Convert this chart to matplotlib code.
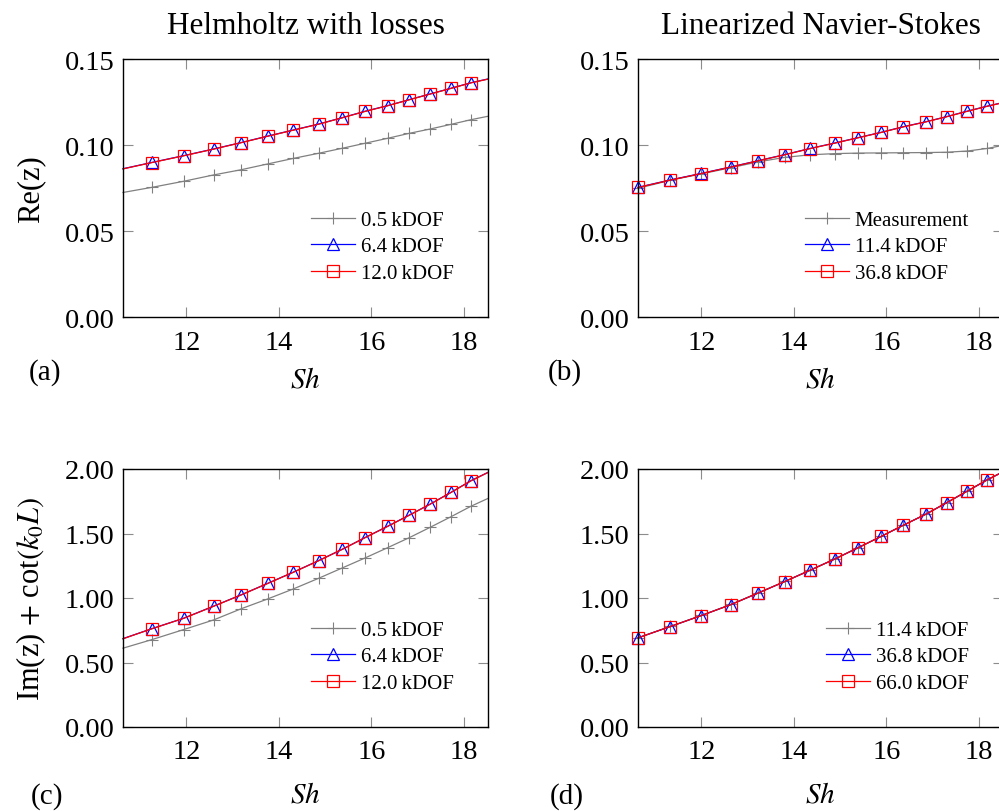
import matplotlib
matplotlib.use('Agg')
import matplotlib.pyplot as plt

plt.rcParams['font.family'] = ['Liberation Serif', 'DejaVu Serif']
plt.rcParams['mathtext.fontset'] = 'stix'

# Sh values (first/last entries sit on the axis edges, no marker)
sh_a = [10.63, 11.26, 11.94, 12.59, 13.18, 13.76, 14.31, 14.86, 15.37, 15.86,
        16.35, 16.82, 17.27, 17.72, 18.15, 18.52]
sh_b = [10.63, 11.33, 12.00, 12.64, 13.23, 13.80, 14.35, 14.89, 15.39, 15.89,
        16.36, 16.85, 17.30, 17.75, 18.18, 18.52]

# (a) Helmholtz with losses, Re(z)
re_a_05 = [0.0724, 0.0754, 0.0789, 0.0826, 0.0856, 0.0890, 0.0922, 0.0952, 0.0981,
           0.1010, 0.1039, 0.1068, 0.1093, 0.1120, 0.1147, 0.1167]
re_a_64 = [0.0862, 0.0899, 0.0938, 0.0977, 0.1014, 0.1052, 0.1087, 0.1122, 0.1159,
           0.1196, 0.1229, 0.1264, 0.1297, 0.1330, 0.1362, 0.1384]
re_a_120 = [0.0861, 0.0898, 0.0937, 0.0976, 0.1013, 0.1051, 0.1086, 0.1121, 0.1158,
            0.1195, 0.1228, 0.1263, 0.1296, 0.1329, 0.1361, 0.1383]

# (b) Linearized Navier-Stokes, Re(z)
re_b_meas = [0.0748, 0.0795, 0.0832, 0.0868, 0.0902, 0.0928, 0.0943, 0.0950, 0.0953,
             0.0954, 0.0955, 0.0956, 0.0958, 0.0965, 0.0980, 0.0998]
re_b_114 = [0.0754, 0.0797, 0.0835, 0.0873, 0.0909, 0.0944, 0.0980, 0.1012, 0.1043,
            0.1074, 0.1106, 0.1135, 0.1165, 0.1197, 0.1226, 0.1247]
re_b_368 = [0.0753, 0.0796, 0.0834, 0.0872, 0.0908, 0.0943, 0.0979, 0.1011, 0.1042,
            0.1073, 0.1105, 0.1134, 0.1164, 0.1196, 0.1225, 0.1246]

# (c) Helmholtz with losses, Im(z) + cot(k0 L)
im_c_05 = [0.611, 0.678, 0.755, 0.830, 0.916, 0.993, 1.070, 1.153, 1.233, 1.310,
           1.390, 1.468, 1.548, 1.630, 1.711, 1.772]
im_c_64 = [0.685, 0.763, 0.843, 0.937, 1.024, 1.114, 1.200, 1.290, 1.378, 1.468,
           1.556, 1.643, 1.728, 1.819, 1.909, 1.974]
im_c_120 = [0.684, 0.762, 0.842, 0.936, 1.023, 1.113, 1.199, 1.289, 1.377, 1.467,
            1.555, 1.642, 1.727, 1.818, 1.908, 1.973]

# (d) Linearized Navier-Stokes, Im(z) + cot(k0 L)
im_d_114 = [0.692, 0.780, 0.865, 0.950, 1.040, 1.128, 1.216, 1.304, 1.391, 1.479,
            1.564, 1.650, 1.739, 1.830, 1.917, 1.979]
im_d_368 = [0.691, 0.779, 0.864, 0.949, 1.039, 1.127, 1.215, 1.303, 1.390, 1.478,
            1.563, 1.649, 1.738, 1.829, 1.916, 1.978]
im_d_660 = [0.691, 0.779, 0.864, 0.949, 1.039, 1.127, 1.215, 1.303, 1.390, 1.478,
            1.563, 1.649, 1.738, 1.829, 1.916, 1.978]

xticks = [12, 14, 16, 18]
yticks_re = [0.00, 0.05, 0.10, 0.15]
yticks_im = [0.00, 0.50, 1.00, 1.50, 2.00]

W, H = 999, 812
fig = plt.figure(figsize=(W / 100, H / 100), dpi=100)

def box(x0, y0, x1, y1):
    return [x0 / W, 1 - y1 / H, (x1 - x0) / W, (y1 - y0) / H]

ax_a = fig.add_axes(box(123, 60, 488, 318))
ax_b = fig.add_axes(box(638, 60, 1003, 318))
ax_c = fig.add_axes(box(123, 470, 488, 728))
ax_d = fig.add_axes(box(638, 470, 1003, 728))

styles = [
    dict(color='0.5', marker='+', ms=9, mew=0.8, lw=0.9),
    dict(color='blue', marker='^', ms=8, mfc='none', mew=0.9, lw=0.9),
    dict(color='red', marker='s', ms=9, mfc='none', mew=0.9, lw=0.9),
]

def panel(ax, x, series, labels, yticks, mark, xpad, lpad):
    for y, lab, st in zip(series, labels, styles):
        ax.plot(x, y, label=lab, markevery=mark, clip_on=False, **st)
    ax.set_xlim(x[0], x[-1])
    ax.set_ylim(yticks[0], yticks[-1])
    ax.set_xticks(xticks)
    ax.set_yticks(yticks)
    ax.set_yticklabels(['%.2f' % v for v in yticks])
    ax.tick_params(direction='in', length=7, width=0.8, color='0.55',
                   top=True, right=True, labelsize=20.5, pad=6)
    ax.tick_params(axis='x', pad=xpad)
    for s in ax.spines.values():
        s.set_linewidth(1.0)
    ax.set_xlabel(r'$Sh$', fontsize=21, labelpad=lpad)
    ax.legend(loc='lower right', bbox_to_anchor=(0.93, 0.1), frameon=False,
              fontsize=15, handlelength=2.1, handletextpad=0.3,
              labelspacing=0.33, borderaxespad=0)

mark_a = list(range(1, 15))
mark_b = list(range(0, 15))

panel(ax_a, sh_a, [re_a_05, re_a_64, re_a_120],
      ['0.5\u2009kDOF', '6.4\u2009kDOF', '12.0\u2009kDOF'], yticks_re, mark_a, 9, 9)
panel(ax_b, sh_b, [re_b_meas, re_b_114, re_b_368],
      ['Measurement', '11.4\u2009kDOF', '36.8\u2009kDOF'], yticks_re, mark_b, 9, 9)
panel(ax_c, sh_a, [im_c_05, im_c_64, im_c_120],
      ['0.5\u2009kDOF', '6.4\u2009kDOF', '12.0\u2009kDOF'], yticks_im, mark_a, 9, 12)
panel(ax_d, sh_b, [im_d_114, im_d_368, im_d_660],
      ['11.4\u2009kDOF', '36.8\u2009kDOF', '66.0\u2009kDOF'], yticks_im, mark_b, 9, 12)

ax_a.set_title('Helmholtz with losses', fontsize=22.5, pad=19)
ax_b.set_title('Linearized Navier-Stokes', fontsize=22.5, pad=19)
ax_a.set_ylabel('Re(z)', fontsize=22, labelpad=14)
ax_c.set_ylabel(r'Im(z) $+$ cot$(k_0L)$', fontsize=22, labelpad=12)

for lab, px, py in [('(a)', 45, 373), ('(b)', 565, 373), ('(c)', 47, 797), ('(d)', 567, 797)]:
    fig.text(px / W, 1 - py / H, lab, fontsize=21, ha='center', va='center')

plt.savefig('out.png', dpi=100)
